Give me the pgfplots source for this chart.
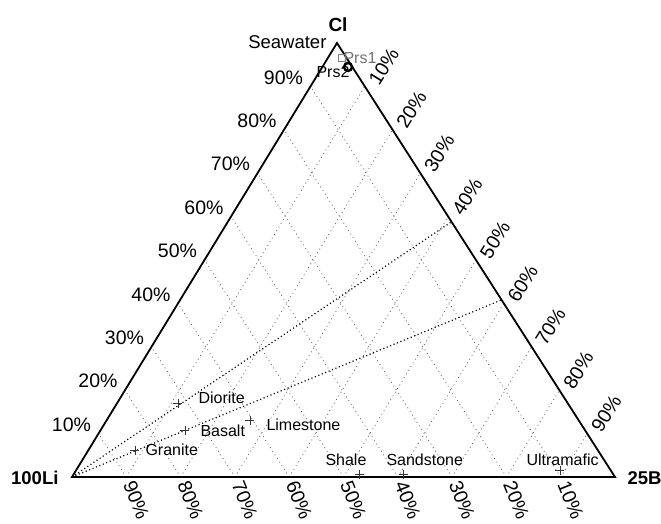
\documentclass[border=0pt]{standalone}
\usepackage{pgfplots}
\pgfplotsset{compat=1.18}
\usepackage{pgfplotstable}
\usepackage{fontspec}
\setmainfont{Liberation Sans}

% ternary data: fractions Li, B, Cl
\pgfplotstableread{
Li B Cl
1 0 0
0 0.412 0.588
}\lineA
\pgfplotstableread{
Li B Cl
1 0 0
0 0.592 0.408
}\lineB
\pgfplotstableread{
Li B Cl
0.7175 0.1120 0.1705
0.7365 0.1552 0.1083
0.8522 0.0856 0.0622
0.6050 0.2637 0.1313
0.4683 0.5267 0.0050
0.3873 0.6077 0.0050
0.0931 0.8908 0.0161
}\rocks
\pgfplotstableread{
Li B Cl
0.0080 0.0473 0.9447
}\prsB
\pgfplotstableread{
Li B Cl
0.0085 0.0261 0.9654
}\prsA

\begin{document}
\begin{tikzpicture}
\begin{axis}[
  scale only axis, width=661pt, height=523pt,
  xmin=-0.13260, xmax=1.08471, ymin=-0.10599, ymax=1.09908,
  hide axis, clip=false,
]
% grid
\pgfplotsinvokeforeach{1,...,9}{
  \draw[black!60, line width=0.8pt, dash pattern=on 0.9pt off 3.4pt]
    (axis cs:{1-#1/10},0) -- (axis cs:{0.488*(1-#1/10)},{1-#1/10});
  \draw[black!60, line width=0.8pt, dash pattern=on 0.9pt off 3.4pt]
    (axis cs:{#1/10},0) -- (axis cs:{#1/10+0.488*(1-#1/10)},{1-#1/10});
  \node[anchor=east, xshift=-4pt, yshift=9pt, font=\fontsize{19.5}{21}\selectfont]
    at (axis cs:{0.488*#1/10},{#1/10}) {#10\%};
  \node[rotate=58, font=\fontsize{19.5}{21}\selectfont]
    at ([xshift=19pt,yshift=20pt]axis cs:{#1/10+0.488*(1-#1/10)},{1-#1/10}) {#10\%};
  \node[rotate=-68, font=\fontsize{19.5}{21}\selectfont]
    at ([xshift=10pt,yshift=-23pt]axis cs:{1-#1/10},0) {#10\%};
}
% mixing lines
\addplot[black, line width=1.2pt, dash pattern=on 1.1pt off 2.6pt]
  table[x expr={\thisrow{B}+0.488*\thisrow{Cl}}, y expr=\thisrow{Cl}] {\lineA};
\addplot[black, line width=1.2pt, dash pattern=on 1.1pt off 2.6pt]
  table[x expr={\thisrow{B}+0.488*\thisrow{Cl}}, y expr=\thisrow{Cl}] {\lineB};
% triangle
\draw[black, line width=1.8pt, line join=miter] (axis cs:0,0) -- (axis cs:1,0) -- (axis cs:0.488,1) -- cycle;
% samples
\addplot[only marks, mark=+, mark size=4.5pt, black!80, line width=0.9pt]
  table[x expr={\thisrow{B}+0.488*\thisrow{Cl}}, y expr=\thisrow{Cl}] {\rocks};
\addplot[only marks, mark=square, mark size=3.5pt, black!50, line width=0.9pt]
  table[x expr={\thisrow{B}+0.488*\thisrow{Cl}}, y expr=\thisrow{Cl}] {\prsA};
\addplot[only marks, mark=o, mark size=4pt, black, line width=2.4pt]
  table[x expr={\thisrow{B}+0.488*\thisrow{Cl}}, y expr=\thisrow{Cl}] {\prsB};
% labels
\begin{scope}[every node/.style={font=\fontsize{16}{18}\selectfont}]
\node[anchor=west] at (axis cs:0.2265,0.1820) {Diorite};
\node[anchor=west] at (axis cs:0.2302,0.1060) {Basalt};
\node[anchor=west] at (axis cs:0.1289,0.0622) {Granite};
\node[anchor=west] at (axis cs:0.3517,0.1198) {Limestone};
\node[anchor=west] at (axis cs:0.4604,0.0392) {Shale};
\node[anchor=west] at (axis cs:0.5727,0.0392) {Sandstone};
\node[anchor=west] at (axis cs:0.8306,0.0392) {Ultramafic};
\node[anchor=west, black!55] at (axis cs:0.4936,0.9654) {Prs1};
\node[anchor=west] at (axis cs:0.4438,0.9332) {Prs2};
\end{scope}
\node[anchor=east, font=\fontsize{18.5}{20}\selectfont] at (axis cs:0.4751,1.0023) {Seawater};
\node[font=\fontsize{19}{21}\selectfont\bfseries] at (axis cs:0.4899,1.0415) {Cl};
\node[anchor=east, font=\fontsize{18.5}{20}\selectfont\bfseries] at (axis cs:-0.0184,-0.0023) {100Li};
\node[anchor=west, font=\fontsize{18.5}{20}\selectfont\bfseries] at (axis cs:1.0166,-0.0023) {25B};
\end{axis}
\pgfresetboundingbox
\useasboundingbox (current axis.south west) rectangle (current axis.north east);
\end{tikzpicture}
\end{document}
